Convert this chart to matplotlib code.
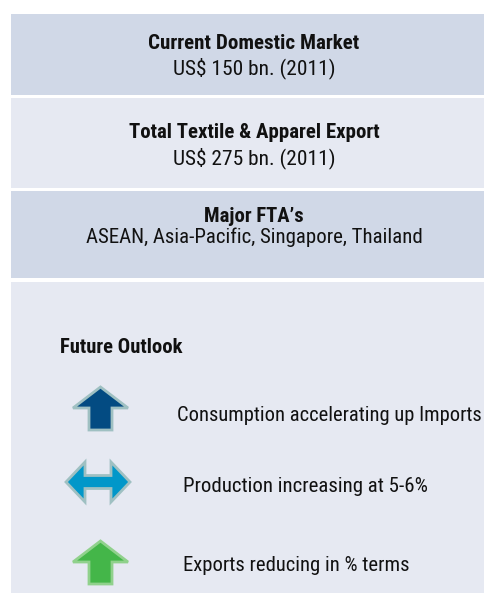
import matplotlib
matplotlib.use("Agg")
import os
import matplotlib.pyplot as plt
from matplotlib import font_manager
from matplotlib.font_manager import FontProperties
from matplotlib.patches import Rectangle, Polygon

# --- content ---
panel_titles = ["Current Domestic Market", "Total Textile & Apparel Export", "Major FTA\u2019s"]
panel_values = ["US$ 150 bn. (2011)", "US$ 275 bn. (2011)", "ASEAN, Asia-Pacific, Singapore, Thailand"]
outlook_title = "Future Outlook"
outlook_items = ["Consumption accelerating up Imports", "Production increasing at 5-6%", "Exports reducing in % terms"]
outlook_kinds = ["up", "both", "up"]

panel_colors = ["#d0d8e7", "#e6e9f2", "#d0d8e7", "#e6e9f2"]
panel_tops = [14, 98, 191, 282]
panel_bottoms = [95, 188, 278, 593]
title_base = [49, 138, 222]
value_base = [74, 164, 243]
title_w = [211, 252, 100]
value_w = [162, 162, 336]
text_cx = 254

outlook_xy = (60, 353)
outlook_w = 123
arrow_fill = ["#034b82", "#0197c9", "#44b649"]
arrow_edge = ["#9fc0c2", "#9fc0c2", "#90d18c"]
arrow_cy = [408, 482, 562]
item_x = [177, 183, 183]
item_base = [421, 492, 571]
item_w = [303, 244, 226]

# pick a condensed face if the machine has one
files = [f.fname for f in font_manager.fontManager.ttflist]
cands = [("LiberationSansNarrow-Regular", "LiberationSansNarrow-Bold"),
         ("RobotoCondensed-Regular", "RobotoCondensed-Bold"),
         ("NotoSans-Condensed.", "NotoSans-CondensedBold."),
         ("OpenSans-CondensedRegular", "OpenSans-CondensedBold"),
         ("DejaVuSansCondensed.", "DejaVuSansCondensed-Bold.")]
fp_reg, fp_bold = FontProperties(family="Liberation Sans"), FontProperties(family="Liberation Sans", weight="bold")
for reg, bold in cands:
    r = [f for f in files if reg in os.path.basename(f)]
    b = [f for f in files if bold in os.path.basename(f)]
    if r and b:
        fp_reg, fp_bold = FontProperties(fname=r[0]), FontProperties(fname=b[0])
        break

fig = plt.figure(figsize=(4.84, 5.93), dpi=100)
ax = fig.add_axes([0, 0, 1, 1])
ax.set_xlim(0, 484)
ax.set_ylim(593, 0)
ax.axis("off")
renderer = fig.canvas.get_renderer()


def fit_text(x, y, s, width, bold=False, ha="left", max_size=16):
    # size the text so its width matches the reference
    fp = (fp_bold if bold else fp_reg).copy()
    fp.set_size(12)
    t = ax.text(x, y, s, ha=ha, va="baseline", fontproperties=fp, color="#111111")
    w = t.get_window_extent(renderer).width
    t.set_fontsize(min(max_size, 12 * width / w))
    return t


for top, bot, col in zip(panel_tops, panel_bottoms, panel_colors):
    ax.add_patch(Rectangle((11, top), 484 - 11, bot - top, facecolor=col, edgecolor="none"))

for i in range(len(panel_titles)):
    fit_text(text_cx, title_base[i], panel_titles[i], title_w[i], bold=True, ha="center")
    fit_text(text_cx, value_base[i], panel_values[i], value_w[i], ha="center")

fit_text(outlook_xy[0], outlook_xy[1], outlook_title, outlook_w, bold=True)


def up_arrow(x0, cy):
    tip, base, bottom = cy - 21, cy, cy + 22
    return [(x0 + 27.5, tip), (x0 + 55, base), (x0 + 39, base), (x0 + 39, bottom),
            (x0 + 16, bottom), (x0 + 16, base), (x0, base)]


def both_arrow(x0, cy):
    return [(x0, cy), (x0 + 19, cy - 20), (x0 + 19, cy - 6.5), (x0 + 45, cy - 6.5), (x0 + 45, cy - 20),
            (x0 + 64, cy), (x0 + 45, cy + 20), (x0 + 45, cy + 6.5), (x0 + 19, cy + 6.5), (x0 + 19, cy + 20)]


for i, item in enumerate(outlook_items):
    pts = up_arrow(73, arrow_cy[i]) if outlook_kinds[i] == "up" else both_arrow(66, arrow_cy[i])
    ax.add_patch(Polygon(pts, closed=True, facecolor=arrow_fill[i], edgecolor=arrow_edge[i],
                         linewidth=2.0, joinstyle="miter"))
    fit_text(item_x[i], item_base[i], item, item_w[i])

fig.savefig("out.png", dpi=100)
